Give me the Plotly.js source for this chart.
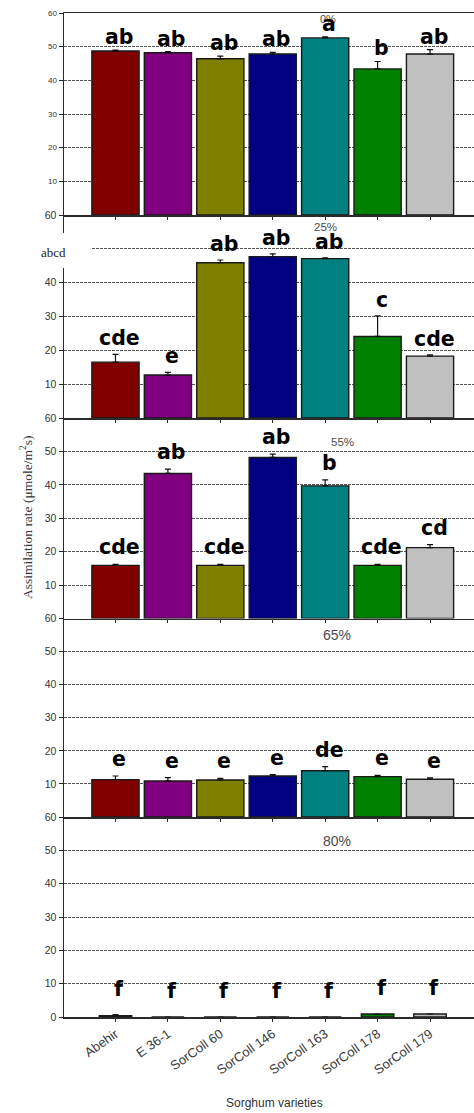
<!DOCTYPE html>
<html>
<head>
<meta charset="utf-8">
<script src="https://cdn.plot.ly/plotly-3.0.1.min.js"></script>
<style>
  html, body { margin: 0; padding: 0; background: #fff; }
  #chart { width: 474px; height: 1113px; }
</style>
</head>
<body>
<div id="chart"></div>
<script>
// Sorghum varieties and their bar colours
const varieties = ["Abehir", "E 36-1", "SorColl 60", "SorColl 146", "SorColl 163", "SorColl 178", "SorColl 179"];
const barColors = ["#800000", "#800080", "#808000", "#000080", "#008080", "#008000", "#C0C0C0"];

// Assimilation rate per stress level (mean, standard error, significance letters)
const level0 = "0%";
const rate0 = [48.7, 48.2, 46.4, 47.8, 52.6, 43.4, 47.8];
const err0 = [0.3, 0.3, 0.8, 0.5, 0.3, 2.2, 1.3];
const letters0 = ["ab", "ab", "ab", "ab", "a", "b", "ab"];

const level25 = "25%";
const rate25 = [16.5, 12.7, 45.9, 47.7, 47.1, 24.1, 18.3];
const err25 = [2.3, 0.8, 0.8, 0.8, 0.2, 6.1, 0.4];
const letters25 = ["cde", "e", "ab", "ab", "ab", "c", "cde"];

const level55 = "55%";
const rate55 = [15.9, 43.4, 15.9, 48.2, 39.7, 15.9, 21.2];
const err55 = [0.3, 1.3, 0.3, 1.0, 1.8, 0.3, 0.9];
const letters55 = ["cde", "ab", "cde", "ab", "b", "cde", "cd"];

const level65 = "65%";
const rate65 = [11.3, 10.9, 11.2, 12.4, 14.0, 12.2, 11.4];
const err65 = [1.1, 1.0, 0.5, 0.4, 1.2, 0.4, 0.4];
const letters65 = ["e", "e", "e", "e", "de", "e", "e"];

const level80 = "80%";
const rate80 = [0.4, 0, 0, 0, 0, 0.9, 0.9];
const err80 = [0.3, 0, 0, 0, 0, 0, 0];
const letters80 = ["f", "f", "f", "f", "f", "f", "f"];

// ---- page geometry ----
const W = 474, H = 1113, LEFT = 64;
const px2x = p => (p - LEFT) / (W - LEFT);   // pixel column -> paper x
const px2y = p => 1 - p / H;                  // pixel row -> paper y

// panel boundaries (pixel rows of the 60 line and the 0 line of each panel)
const edges = [13, 215, 418, 618.5, 817, 1017];

const panels = [
  { level: level0,  rate: rate0,  err: err0,  letters: letters0,  barWidth: 0.9,  tickSize: 8,
    ticks: [10, 20, 30, 40, 50, 60], extraGrid: [], labelShift: -1, levelPos: [328, 19], levelSize: 11 },
  { level: level25, rate: rate25, err: err25, letters: letters25, barWidth: 0.9,  tickSize: 10.5,
    ticks: [10, 20, 30, 40, 60], extraGrid: [50], labelShift: 2, levelPos: [325, 227], levelSize: 11.5 },
  { level: level55, rate: rate55, err: err55, letters: letters55, barWidth: 0.9,  tickSize: 10.5,
    ticks: [10, 20, 30, 40, 50, 60], extraGrid: [], labelShift: 3, levelPos: [342, 442], levelSize: 11.5 },
  { level: level65, rate: rate65, err: err65, letters: letters65, barWidth: 0.9,  tickSize: 10.5,
    ticks: [10, 20, 30, 40, 50, 60], extraGrid: [], labelShift: 3, levelPos: [337, 635], levelSize: 14 },
  { level: level80, rate: rate80, err: err80, letters: letters80, barWidth: 0.62, tickSize: 10.5,
    ticks: [0, 10, 20, 30, 40, 50, 60], extraGrid: [], labelShift: 12, levelPos: [337, 841], levelSize: 14 }
];

const axisColor = "#2b2b2b";
const gridStyle = { color: "#555", width: 1, dash: "3px,1px" };
const traces = [];
const annotations = [];
const layout = {
  width: W, height: H,
  margin: { l: LEFT, r: 0, t: 0, b: 0, pad: 0 },
  paper_bgcolor: "#ffffff",
  plot_bgcolor: "rgba(0,0,0,0)",
  showlegend: false,
  bargap: 0.1,
  font: { family: "Liberation Sans, Arial, sans-serif", color: "#333" },
  shapes: [],
  annotations: annotations
};

panels.forEach((p, i) => {
  const k = i + 1;
  const xa = k === 1 ? "x" : "x" + k;
  const ya = k === 1 ? "y" : "y" + k;

  traces.push({
    type: "bar",
    x: varieties,
    y: p.rate,
    xaxis: xa, yaxis: ya,
    width: p.barWidth,
    marker: { color: barColors, line: { color: "#1a1a1a", width: 1.4 } },
    error_y: {
      type: "data", symmetric: false,
      array: p.err, arrayminus: p.err.map(() => 0),
      color: "#111", thickness: 1.2, width: 3
    },
    hoverinfo: "skip"
  });

  layout["xaxis" + (k === 1 ? "" : k)] = {
    anchor: ya,
    domain: [0, 1],
    type: "category",
    range: [-0.982, 6.839],
    showline: true, linecolor: axisColor, linewidth: 1.5,
    mirror: k === 1,
    ticks: "outside", ticklen: 3, tickcolor: axisColor, tickwidth: 1,
    showgrid: false, zeroline: false,
    showticklabels: k === 5,
    tickangle: -35,
    tickfont: { size: 13, color: "#3a3a3a", family: "Liberation Sans, Arial, sans-serif" }
  };

  const yax = {
    anchor: xa,
    domain: [px2y(edges[i + 1]), px2y(edges[i])],
    range: [0, 60],
    tickmode: "array",
    tickvals: p.ticks,
    ticks: "outside", ticklen: 4, tickcolor: axisColor, tickwidth: 1,
    showline: true, linecolor: axisColor, linewidth: 1.5,
    showgrid: true, gridcolor: gridStyle.color, gridwidth: gridStyle.width, griddash: gridStyle.dash,
    zeroline: false,
    tickfont: { size: p.tickSize, color: "#333", family: "Liberation Sans, Arial, sans-serif" }
  };
  if (p.extraGrid.length) {
    // gridline without a printed label
    yax.minor = {
      tickmode: "array", tickvals: p.extraGrid, ticks: "outside", ticklen: 4, tickcolor: axisColor,
      showgrid: true, gridcolor: gridStyle.color, gridwidth: gridStyle.width, griddash: gridStyle.dash
    };
  }
  layout["yaxis" + (k === 1 ? "" : k)] = yax;

  // stress level caption
  annotations.push({
    xref: "paper", yref: "paper",
    x: px2x(p.levelPos[0]), y: px2y(p.levelPos[1]),
    xanchor: "center", yanchor: "middle",
    text: p.level, showarrow: false,
    font: { size: p.levelSize, color: "#4a4a4a", family: "Liberation Sans, Arial, sans-serif" }
  });

  // significance letters above each bar
  p.letters.forEach((txt, j) => {
    annotations.push({
      xref: xa, yref: ya,
      x: varieties[j], y: p.rate[j] + p.err[j],
      xanchor: "center", yanchor: "bottom",
      xshift: 4, yshift: p.labelShift,
      text: txt, showarrow: false,
      font: { size: 20.5, color: "#000", family: "DejaVu Sans, Verdana, sans-serif", weight: "bold" }
    });
  });
});

// gap in the axis of the 25% panel holding the stray "abcd" note
layout.shapes.push({
  type: "rect", layer: "above", xref: "paper", yref: "paper",
  x0: px2x(26), x1: px2x(91), y0: px2y(268), y1: px2y(233),
  fillcolor: "#ffffff", line: { width: 0 }
});
annotations.push({
  xref: "paper", yref: "paper", x: px2x(53), y: px2y(253),
  xanchor: "center", yanchor: "middle", showarrow: false,
  text: "abcd",
  font: { size: 13, color: "#222", family: "Liberation Serif, Times New Roman, serif" }
});

// axis titles
annotations.push({
  xref: "paper", yref: "paper", x: px2x(26), y: px2y(518),
  xanchor: "center", yanchor: "middle", showarrow: false, textangle: -90,
  text: "Assimilation rate (\u03bcmole/m<sup>2</sup>s)",
  font: { size: 13.5, color: "#333", family: "Liberation Serif, Times New Roman, serif" }
});
annotations.push({
  xref: "paper", yref: "paper", x: px2x(274), y: px2y(1103),
  xanchor: "center", yanchor: "middle", showarrow: false,
  text: "Sorghum varieties",
  font: { size: 12, color: "#333", family: "Liberation Sans, Arial, sans-serif" }
});

Plotly.newPlot("chart", traces, layout, { staticPlot: true, displayModeBar: false });
</script>
</body>
</html>
